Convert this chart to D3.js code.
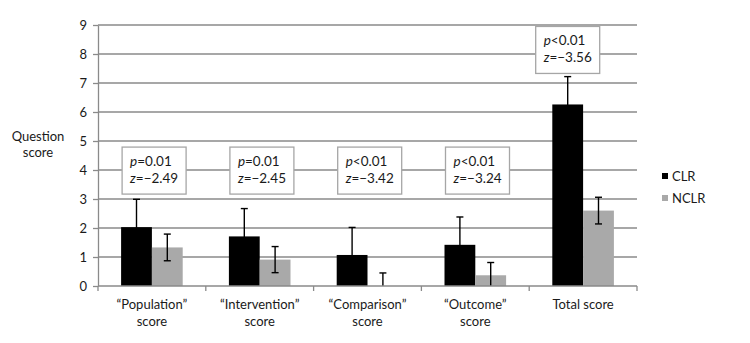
<!DOCTYPE html>
<html>
<head>
<meta charset="utf-8">
<script src="https://cdn.jsdelivr.net/npm/d3@7"></script>
<style>
  body { margin: 0; background: #fff; }
  text { font-family: Lato, "Open Sans", sans-serif; fill: #1a1a1a; }
  .grid line { stroke: #8a8a8a; stroke-width: 1.3; }
  .axis path, .axis line { stroke: #8a8a8a; stroke-width: 1.3; }
  .err { stroke: #000; stroke-width: 1.4; }
  .note rect { fill: #fff; stroke: #a6a6a6; stroke-width: 1.3; }
</style>
</head>
<body>
<svg id="chart" width="750" height="343"></svg>
<script>
const categories = ["Population", "Intervention", "Comparison", "Outcome", "Total"];
const catLabels = [["\u201cPopulation\u201d", "score"], ["\u201cIntervention\u201d", "score"],
  ["\u201cComparison\u201d", "score"], ["\u201cOutcome\u201d", "score"], ["Total score"]];
const groups = ["CLR", "NCLR"];
const clrMean = [2.03, 1.71, 1.07, 1.42, 6.26];
const clrErr = [0.96, 0.96, 0.95, 0.96, 0.96];
const nclrMean = [1.33, 0.91, 0, 0.37, 2.6];
const nclrErr = [0.46, 0.45, 0.45, 0.44, 0.46];
const pText = ["=0.01", "=0.01", "<0.01", "<0.01", "<0.01"];
const zText = ["=\u22122.49", "=\u22122.45", "=\u22123.42", "=\u22123.24", "=\u22123.56"];
const yTicks = [0, 1, 2, 3, 4, 5, 6, 7, 8, 9];

const svg = d3.select("#chart");
const margin = { top: 25, right: 113, bottom: 57, left: 98 };
const width = 750 - margin.left - margin.right;
const height = 343 - margin.top - margin.bottom;
const colors = { CLR: "#000000", NCLR: "#a9a9a9" };

const g = svg.append("g")
  .attr("transform", "translate(" + margin.left + "," + margin.top + ")");

const x = d3.scaleBand().domain(categories).range([0, width]).padding(0);
// gap width 150%: two bars plus 0.75 bar of space on each side
const xInner = d3.scaleBand().domain(groups).range([0, x.bandwidth()])
  .paddingInner(0).paddingOuter(0.75);
const y = d3.scaleLinear().domain([0, 9]).range([height, 0]);

const rows = categories.map((c, i) => ({
  cat: c,
  vals: [
    { key: "CLR", mean: clrMean[i], err: clrErr[i] },
    { key: "NCLR", mean: nclrMean[i], err: nclrErr[i] }
  ]
}));

// horizontal gridlines
g.append("g").attr("class", "grid")
  .selectAll("line").data(yTicks.slice(1)).join("line")
  .attr("x1", 0).attr("x2", width)
  .attr("y1", d => y(d)).attr("y2", d => y(d));

// bars
const grp = g.selectAll("g.cat").data(rows).join("g")
  .attr("class", "cat")
  .attr("transform", d => "translate(" + x(d.cat) + ",0)");

grp.selectAll("rect").data(d => d.vals).join("rect")
  .attr("x", d => xInner(d.key))
  .attr("width", xInner.bandwidth())
  .attr("y", d => y(d.mean))
  .attr("height", d => y(0) - y(d.mean))
  .attr("fill", d => colors[d.key]);

// error bars, cut at zero
const eb = grp.selectAll("g.eb").data(d => d.vals).join("g").attr("class", "eb")
  .attr("transform", d => "translate(" + (xInner(d.key) + xInner.bandwidth() / 2) + ",0)");
eb.append("line").attr("class", "err")
  .attr("y1", d => y(Math.max(0, d.mean - d.err)))
  .attr("y2", d => y(d.mean + d.err));
eb.append("line").attr("class", "err")
  .attr("x1", -3.5).attr("x2", 3.5)
  .attr("y1", d => y(d.mean + d.err)).attr("y2", d => y(d.mean + d.err));
eb.filter(d => d.mean - d.err > 0).append("line").attr("class", "err")
  .attr("x1", -3.5).attr("x2", 3.5)
  .attr("y1", d => y(d.mean - d.err)).attr("y2", d => y(d.mean - d.err));

// axes
const yAxis = g.append("g").attr("class", "axis")
  .call(d3.axisLeft(y).tickValues(yTicks).tickSize(5).tickSizeOuter(0).tickPadding(6));
yAxis.selectAll("text").style("font-size", "13px").attr("fill", "#1a1a1a");

const xAxis = g.append("g").attr("class", "axis")
  .attr("transform", "translate(0," + height + ")");
xAxis.append("line").attr("x1", 0).attr("x2", width);
xAxis.selectAll("line.tk").data(d3.range(categories.length + 1)).join("line")
  .attr("class", "tk")
  .attr("x1", d => d * x.bandwidth()).attr("x2", d => d * x.bandwidth())
  .attr("y1", 0).attr("y2", 5);

xAxis.selectAll("text").data(categories).join("text")
  .attr("x", d => x(d) + x.bandwidth() / 2)
  .attr("text-anchor", "middle")
  .style("font-size", "13px")
  .selectAll("tspan").data((d, i) => catLabels[i]).join("tspan")
  .attr("x", function () { return this.parentNode.getAttribute("x"); })
  .attr("y", (d, i) => 23 + i * 17)
  .text(d => d);

// axis title
svg.append("text")
  .attr("x", 38).attr("text-anchor", "middle")
  .style("font-size", "13px")
  .selectAll("tspan").data(["Question", "score"]).join("tspan")
  .attr("x", 38).attr("y", (d, i) => 141 + i * 16)
  .text(d => d);

// significance notes
const boxW = 64, boxH = 47;
const noteTop = [4.79, 4.79, 4.79, 4.79, 8.95];
const noteLeft = (c, i) => x(c) + xInner("CLR") + (i === 4 ? xInner.bandwidth() / 2 - boxW / 2 : 1);

const note = g.selectAll("g.note").data(categories).join("g")
  .attr("class", "note")
  .attr("transform", (c, i) => "translate(" + noteLeft(c, i) + "," + y(noteTop[i]) + ")");
note.append("rect").attr("width", boxW).attr("height", boxH);
note.each(function (c, i) {
  const n = d3.select(this);
  const t1 = n.append("text").attr("x", 8).attr("y", 19).style("font-size", "13.5px");
  t1.append("tspan").style("font-style", "italic").text("p");
  t1.append("tspan").text(pText[i]);
  const t2 = n.append("text").attr("x", 8).attr("y", 36).style("font-size", "13.5px");
  t2.append("tspan").style("font-style", "italic").text("z");
  t2.append("tspan").text(zText[i]);
});

// legend
const legend = svg.append("g").attr("transform", "translate(662,0)");
legend.selectAll("rect").data(groups).join("rect")
  .attr("x", 0).attr("y", (d, i) => 173 + i * 22)
  .attr("width", 6).attr("height", 6)
  .attr("fill", d => colors[d]);
legend.selectAll("text").data(groups).join("text")
  .attr("x", 10).attr("y", (d, i) => 180.5 + i * 22)
  .style("font-size", "13px")
  .text(d => d);
</script>
</body>
</html>
